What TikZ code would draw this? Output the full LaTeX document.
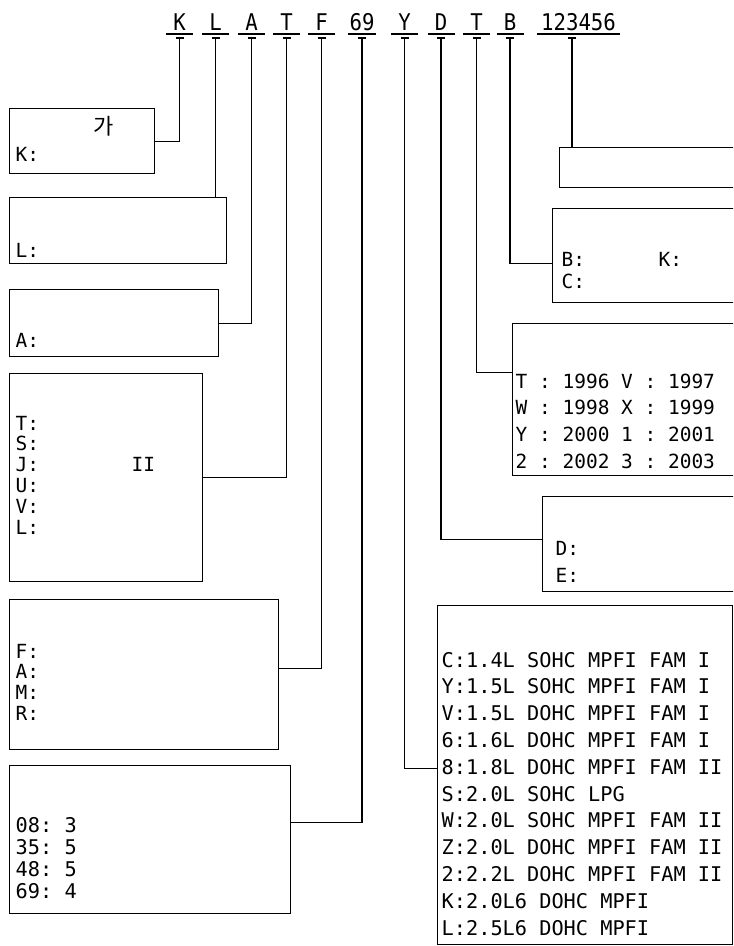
\documentclass[tikz,border=0pt]{standalone}
\usepackage{fontspec}
\setmonofont{DejaVu Sans Mono}
\newfontfamily\codefont[FakeStretch=0.9]{DejaVu Sans Mono}
\newfontfamily\krfont{Noto Sans CJK KR}

\tikzset{
  code/.style={font=\codefont\fontsize{17.25}{20}\selectfont, inner sep=3pt, outer sep=0pt,
    text depth=0pt, minimum width=20.25pt, anchor=south},
  box/.style={draw, inner sep=0pt, anchor=north west},
  txt/.style={font=\ttfamily\fontsize{14.6}{18}\selectfont, inner sep=0pt, anchor=base west},
  bigtxt/.style={txt, font=\ttfamily\fontsize{15.2}{18}\selectfont},
  kor/.style={font=\krfont\fontsize{16.5}{20}\selectfont, inner sep=0pt, anchor=base west}
}

\begin{document}
\begin{tikzpicture}[x=0.75pt, y=-0.75pt, line width=1.1pt]
\clip (0,0) rectangle (733,946);

% code letters on top
\node[code] (cK) at (179.5,34) {K};
\node[code] (cL) at (215.5,34) {L};
\node[code] (cA) at (251.5,34) {A};
\node[code] (cT) at (286.5,34) {T};
\node[code] (cF) at (321.5,34) {F};
\node[code, inner xsep=1.5pt] (cN) at (362,34) {69};
\node[code] (cY) at (404.5,34) {Y};
\node[code] (cD) at (441,34) {D};
\node[code] (cR) at (476.5,34) {T};
\node[code] (cB) at (510,34) {B};
\node[code] (cP) at (578.5,34) {123456};

\foreach \n in {K,L,A,T,F,N,Y,D,R,B}
  \coordinate (t\n) at ([yshift=-3pt]c\n.south);
\coordinate (tP) at ([xshift=-5pt,yshift=-3pt]cP.south);

\foreach \n in {K,L,A,T,F,N,Y,D,R,B,P} {
  \draw (c\n.south west) -- (c\n.south east);
  \draw ([xshift=-3pt]t\n) -- ([xshift=3pt]t\n);
}

% boxes, left column
\node[box, minimum width=108.75pt, minimum height=48.75pt] (kbox) at (9,108) {};
\node[box, minimum width=162.75pt, minimum height=49.5pt] (lbox) at (9,197) {};
\node[box, minimum width=156.75pt, minimum height=50.25pt] (abox) at (9,289) {};
\node[box, minimum width=144.75pt, minimum height=156pt] (tbox) at (9,373) {};
\node[box, minimum width=201.75pt, minimum height=112.5pt] (fbox) at (9,599) {};
\node[box, minimum width=210.75pt, minimum height=111pt] (nbox) at (9,765) {};

% boxes, right column
\node[box, minimum width=180.75pt, minimum height=30pt] (pbox) at (559,147) {};
\node[box, minimum width=186pt, minimum height=70.5pt] (bbox) at (552,208) {};
\node[box, minimum width=216pt, minimum height=114pt] (rbox) at (512,323) {};
\node[box, minimum width=193.5pt, minimum height=71.25pt] (dbox) at (542,496) {};
\node[box, minimum width=221.25pt, minimum height=254.25pt] (ybox) at (437,605) {};

% connectors
\draw (tK) |- (kbox.east);
\draw (tL) -- (tL |- lbox.north);
\draw (tA) |- (abox.east);
\draw (tT) |- (tbox.east);
\draw (tF) |- ([yshift=4.5pt]fbox.east);
\draw (tN) |- ([yshift=12.75pt]nbox.east);
\draw (tY) |- ([yshift=4.9pt]ybox.west);
\draw (tD) |- ([yshift=3.4pt]dbox.west);
\draw (tR) |- ([yshift=20.25pt]rbox.west);
\draw (tB) |- ([yshift=-6pt]bbox.west);
\draw (tP) -- (tP |- pbox.north);

% texts
\node[kor] (kk) at (93,134) {가};
\node[txt] (kt) at (15,161) {K:};
\node[txt] (lt) at (15,257) {L:};
\node[txt] (at) at (15,347) {A:};
\foreach \s [count=\i] in {T:,S:,J:,U:,V:,L:}
  \node[txt] (tt\i) at (15,{430+20.8*(\i-1)}) {\s};
\node[txt] (tII) at (131,471.6) {II};
\foreach \s [count=\i] in {F:,A:,M:,R:}
  \node[txt] (ft\i) at (15,{658+20.8*(\i-1)}) {\s};
\foreach \s [count=\i] in {08: 3,35: 5,48: 5,69: 4}
  \node[bigtxt] (nt\i) at (15,{832+22*(\i-1)}) {\s};

\node[txt] (bt1) at (561,266) {B:};
\node[txt] (bk) at (658,266) {K:};
\node[txt] (bt2) at (561,288) {C:};
\foreach \s [count=\i] in {T : 1996 V : 1997,W : 1998 X : 1999,Y : 2000 1 : 2001,2 : 2002 3 : 2003}
  \node[txt] (rt\i) at (515,{388+26.7*(\i-1)}) {\s};
\node[txt] (dt1) at (555,555) {D:};
\node[txt] (dt2) at (555,582) {E:};
\foreach \s [count=\i] in {C:1.4L SOHC MPFI FAM I,Y:1.5L SOHC MPFI FAM I,V:1.5L DOHC MPFI FAM I,
    6:1.6L DOHC MPFI FAM I,8:1.8L DOHC MPFI FAM II,S:2.0L SOHC LPG,W:2.0L SOHC MPFI FAM II,
    Z:2.0L DOHC MPFI FAM II,2:2.2L DOHC MPFI FAM II,K:2.0L6 DOHC MPFI,L:2.5L6 DOHC MPFI}
  \node[bigtxt] (yt\i) at (441,{667+26.8*(\i-1)}) {\s};
\end{tikzpicture}
\end{document}
